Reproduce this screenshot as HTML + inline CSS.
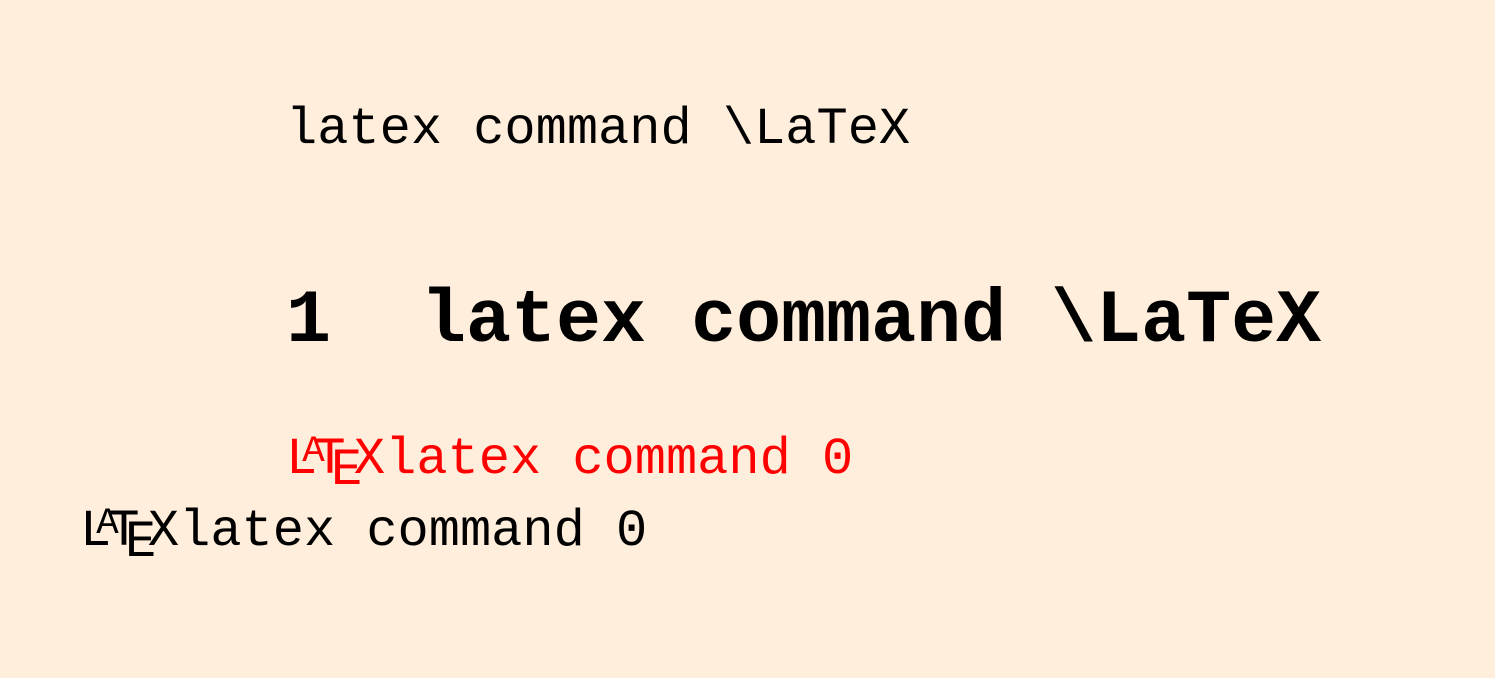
<!DOCTYPE html>
<html><head><style>
html,body{margin:0;padding:0;}
body{width:1495px;height:678px;background:#FFEEDB;position:relative;overflow:hidden;font-family:"Liberation Mono",monospace;}
.t{position:absolute;line-height:1;white-space:pre;}
.s{font-size:52px;}
.h{font-size:75px;font-weight:bold;}
.logo span{display:inline-block;}
.a{font-size:0.72em;margin-left:-0.4em;vertical-align:0.32em;}
.tt{margin-left:-0.2em;}
.e{margin-left:-0.28em;vertical-align:-0.22em;}
.x{margin-left:-0.16em;}
</style></head><body>
<div class="t s" style="left:286px;top:104px;">latex command \LaTeX</div>
<div class="t h" style="left:286px;top:284px;">1  latex command \LaTeX</div>
<div class="t s" style="left:286px;top:434px;color:#ff0000;"><span class="logo"><span>L</span><span class="a">A</span><span class="tt">T</span><span class="e">E</span><span class="x">X</span></span>latex command 0</div>
<div class="t s" style="left:80px;top:506px;"><span class="logo"><span>L</span><span class="a">A</span><span class="tt">T</span><span class="e">E</span><span class="x">X</span></span>latex command 0</div>
</body></html>
